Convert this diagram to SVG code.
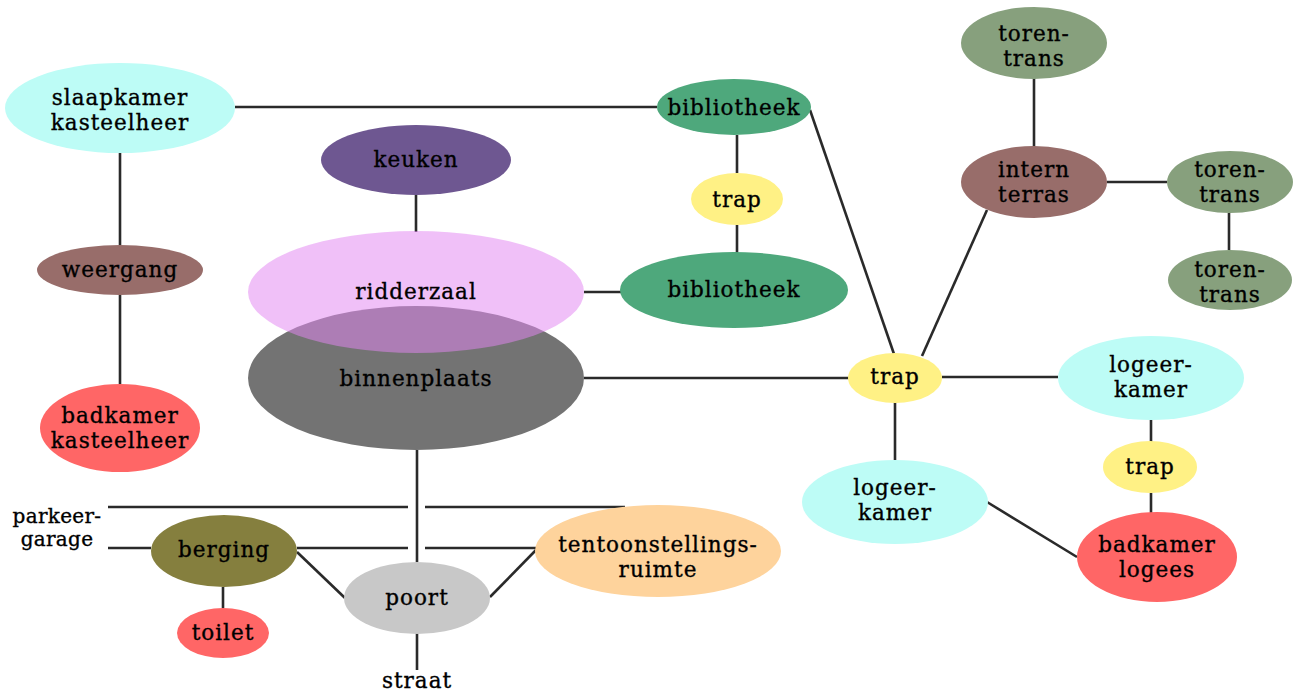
<svg xmlns="http://www.w3.org/2000/svg" width="1293" height="695" viewBox="0 0 1293 695">
<style>
.e{stroke:none}
.c path{fill:none;stroke:#2a2a2a;stroke-width:2.6}
text{font-family:"DejaVu Serif","Liberation Serif",serif;font-size:21.5px;letter-spacing:1px;text-anchor:middle;fill:#000;stroke:#000;stroke-width:0.35}
text.sm{font-size:20px;letter-spacing:0.3px}
.cyan{fill:#bdfcf6}.brown{fill:#986d6a}.red{fill:#ff6666}.purple{fill:#6e5791}
.gray{fill:#737373}.green{fill:#4ea87c}.yellow{fill:#fff185}.sage{fill:#87a07d}
.olive{fill:#857f3e}.lgray{fill:#c8c8c8}.peach{fill:#fed39c}
.pink{fill:#e387f2;fill-opacity:0.52}
</style>
<rect width="1293" height="695" fill="#ffffff"/>
<g id="connectors" class="c">
<path d="M235,107 H657"/>
<path d="M120,153 V245"/>
<path d="M120,295 V384"/>
<path d="M416,195 V232"/>
<path d="M584,292 H621"/>
<path d="M737,135 V173"/>
<path d="M737,225 V253"/>
<path d="M810,110 L894,354"/>
<path d="M584,378 H849"/>
<path d="M922,356 L987,210"/>
<path d="M1034,78 V147"/>
<path d="M1107,182 H1167"/>
<path d="M1229,213 V250"/>
<path d="M942,377 H1058"/>
<path d="M895,402 V460"/>
<path d="M1151,420 V442"/>
<path d="M1151,493 V513"/>
<path d="M987,502 L1077,557"/>
<path d="M417,450 V562"/>
<path d="M417,633 V670"/>
<path d="M108,507 H408 M425,507 H625"/>
<path d="M108,548 H151 M297,548 H408 M425,548 H536"/>
<path d="M297,552 L345,598"/>
<path d="M490,597 L536,550"/>
<path d="M223,587 V608"/>
</g>
<g id="slaapkamer"><ellipse class="e cyan" cx="120" cy="108" rx="115" ry="45"/><text x="120" y="105">slaapkamer</text><text x="120" y="130">kasteelheer</text></g>
<g id="weergang"><ellipse class="e brown" cx="120" cy="270" rx="83" ry="25"/><text x="120" y="277">weergang</text></g>
<g id="badkamer-kasteelheer"><ellipse class="e red" cx="120" cy="428" rx="80" ry="44"/><text x="120" y="423">badkamer</text><text x="120" y="448">kasteelheer</text></g>
<g id="keuken"><ellipse class="e purple" cx="416" cy="160" rx="95" ry="35"/><text x="416" y="167">keuken</text></g>
<g id="binnenplaats"><ellipse class="e gray" cx="416" cy="378" rx="168" ry="72"/><text x="416" y="386">binnenplaats</text></g>
<g id="ridderzaal"><ellipse class="e pink" cx="416" cy="292" rx="168" ry="61"/><text x="416" y="299">ridderzaal</text></g>
<g id="bibliotheek1"><ellipse class="e green" cx="734" cy="107" rx="77" ry="28"/><text x="734" y="115">bibliotheek</text></g>
<g id="trap1"><ellipse class="e yellow" cx="737" cy="199" rx="46" ry="26"/><text x="737" y="207">trap</text></g>
<g id="bibliotheek2"><ellipse class="e green" cx="734" cy="290" rx="114" ry="38"/><text x="734" y="297">bibliotheek</text></g>
<g id="torentrans1"><ellipse class="e sage" cx="1034" cy="43" rx="73" ry="36"/><text x="1034" y="41">toren-</text><text x="1034" y="66">trans</text></g>
<g id="intern-terras"><ellipse class="e brown" cx="1034" cy="182" rx="73" ry="36"/><text x="1034" y="177">intern</text><text x="1034" y="202">terras</text></g>
<g id="torentrans2"><ellipse class="e sage" cx="1230" cy="182" rx="63" ry="31"/><text x="1230" y="177">toren-</text><text x="1230" y="202">trans</text></g>
<g id="torentrans3"><ellipse class="e sage" cx="1230" cy="280" rx="62" ry="30"/><text x="1230" y="277">toren-</text><text x="1230" y="302">trans</text></g>
<g id="trap-main"><ellipse class="e yellow" cx="895" cy="378" rx="47" ry="25"/><text x="895" y="384">trap</text></g>
<g id="logeerkamer1"><ellipse class="e cyan" cx="1151" cy="378" rx="93" ry="42"/><text x="1151" y="372">logeer-</text><text x="1151" y="397">kamer</text></g>
<g id="trap2"><ellipse class="e yellow" cx="1150" cy="467" rx="47" ry="26"/><text x="1150" y="474">trap</text></g>
<g id="logeerkamer2"><ellipse class="e cyan" cx="895" cy="502" rx="93" ry="42"/><text x="895" y="495">logeer-</text><text x="895" y="520">kamer</text></g>
<g id="badkamer-logees"><ellipse class="e red" cx="1157" cy="557" rx="80" ry="45"/><text x="1157" y="552">badkamer</text><text x="1157" y="577">logees</text></g>
<g id="parkeergarage"><text class="sm" x="57" y="523">parkeer-</text><text class="sm" x="57" y="546">garage</text></g>
<g id="berging"><ellipse class="e olive" cx="224" cy="551" rx="73" ry="36"/><text x="224" y="557">berging</text></g>
<g id="toilet"><ellipse class="e red" cx="223" cy="633" rx="46" ry="25"/><text x="223" y="640">toilet</text></g>
<g id="poort"><ellipse class="e lgray" cx="417" cy="598" rx="73" ry="36"/><text x="417" y="605">poort</text></g>
<g id="straat"><text x="417" y="688">straat</text></g>
<g id="tentoonstellingsruimte"><ellipse class="e peach" cx="658" cy="551" rx="123" ry="46"/><text x="658" y="552">tentoonstellings-</text><text x="658" y="577">ruimte</text></g>
</svg>
